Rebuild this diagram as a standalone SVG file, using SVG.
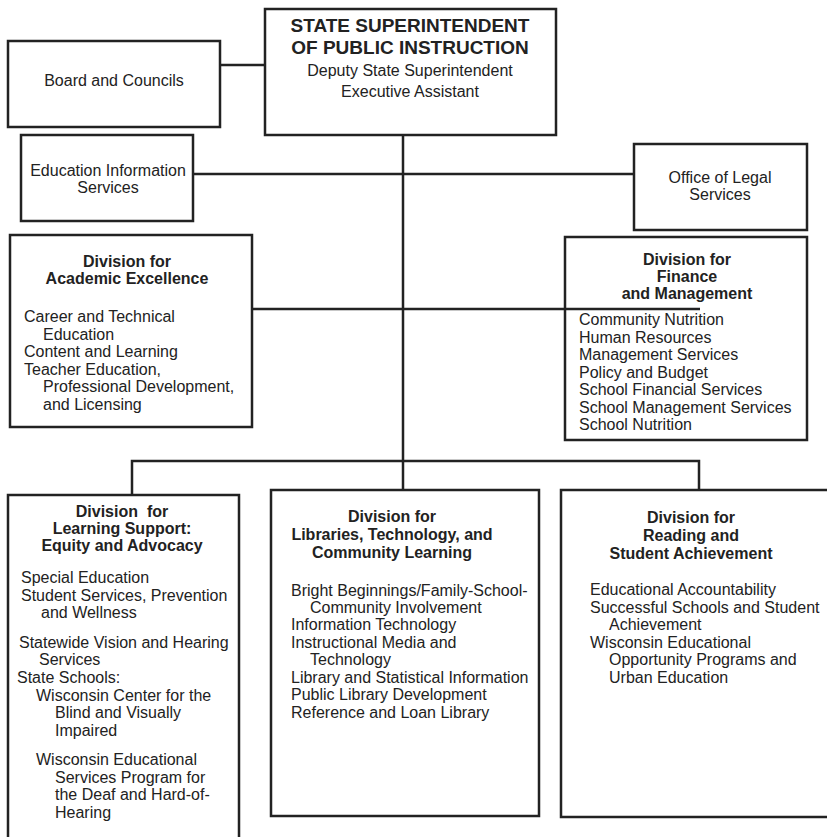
<svg xmlns="http://www.w3.org/2000/svg" width="827" height="837" viewBox="0 0 827 837">
<style>
.box{fill:#fff;stroke:#222;stroke-width:2.5}
.ln{fill:none;stroke:#222;stroke-width:2.5}
text{font-family:"Liberation Sans",Arial,sans-serif;font-size:16px;fill:#222}
.b{font-weight:bold}
.c{text-anchor:middle}
.big{font-size:19px;font-weight:bold}
</style>
<rect width="827" height="837" fill="#fff"/>
<g id="connectors">
<line class="ln" x1="220" y1="65" x2="265" y2="65"/>
<line class="ln" x1="403" y1="135" x2="403" y2="461"/>
<line class="ln" x1="193" y1="174" x2="634" y2="174"/>
<line class="ln" x1="252" y1="309" x2="700" y2="309"/>
<path class="ln" d="M132,495 V461 H699 V490"/>
<line class="ln" x1="403" y1="461" x2="403" y2="490"/>
</g>
<g id="superintendent">
<rect class="box" x="265" y="9" width="291" height="126"/>
<text class="big c" x="410" y="32">STATE SUPERINTENDENT</text>
<text class="big c" x="410" y="54">OF PUBLIC INSTRUCTION</text>
<text class="c" x="410" y="76">Deputy State Superintendent</text>
<text class="c" x="410" y="97">Executive Assistant</text>
</g>
<g id="board">
<rect class="box" x="8" y="41" width="212" height="86"/>
<text class="c" x="114" y="86">Board and Councils</text>
</g>
<g id="edinfo">
<rect class="box" x="21" y="135" width="172" height="86"/>
<text class="c" x="108" y="176">Education Information</text>
<text class="c" x="108" y="193">Services</text>
</g>
<g id="legal">
<rect class="box" x="634" y="144" width="173" height="86"/>
<text class="c" x="720" y="183">Office of Legal</text>
<text class="c" x="720" y="200">Services</text>
</g>
<g id="academic">
<rect class="box" x="10" y="235" width="242" height="192"/>
<text class="b c" x="127" y="267">Division for</text>
<text class="b c" x="127" y="284">Academic Excellence</text>
<text x="24" y="322">Career and Technical</text>
<text x="43" y="339.5">Education</text>
<text x="24" y="357">Content and Learning</text>
<text x="24" y="374.5">Teacher Education,</text>
<text x="43" y="392">Professional Development,</text>
<text x="43" y="409.5">and Licensing</text>
</g>
<g id="finance">
<path class="box" d="M565,237 H807 V440 H565 Z"/>
<line class="ln" x1="565" y1="309" x2="700" y2="309"/>
<text class="b c" x="687" y="265">Division for</text>
<text class="b c" x="687" y="282">Finance</text>
<text class="b c" x="687" y="299">and Management</text>
<text x="579" y="325">Community Nutrition</text>
<text x="579" y="342.5">Human Resources</text>
<text x="579" y="360">Management Services</text>
<text x="579" y="377.5">Policy and Budget</text>
<text x="579" y="395">School Financial Services</text>
<text x="579" y="412.5">School Management Services</text>
<text x="579" y="430">School Nutrition</text>
</g>
<g id="learning">
<path class="box" d="M8,838 V495 H239 V838"/>
<text class="b c" x="122" y="517" xml:space="preserve">Division  for</text>
<text class="b c" x="122" y="534">Learning Support:</text>
<text class="b c" x="122" y="551">Equity and Advocacy</text>
<text x="21" y="583">Special Education</text>
<text x="21" y="601">Student Services, Prevention</text>
<text x="41" y="618">and Wellness</text>
<text x="19" y="648">Statewide Vision and Hearing</text>
<text x="39" y="665">Services</text>
<text x="17" y="683">State Schools:</text>
<text x="36" y="701">Wisconsin Center for the</text>
<text x="55" y="718">Blind and Visually</text>
<text x="55" y="736">Impaired</text>
<text x="36" y="765">Wisconsin Educational</text>
<text x="55" y="783">Services Program for</text>
<text x="55" y="800">the Deaf and Hard-of-</text>
<text x="55" y="818">Hearing</text>
</g>
<g id="libraries">
<rect class="box" x="271" y="490" width="268" height="326"/>
<text class="b c" x="392" y="522">Division for</text>
<text class="b c" x="392" y="540">Libraries, Technology, and</text>
<text class="b c" x="392" y="558">Community Learning</text>
<text x="291" y="596">Bright Beginnings/Family-School-</text>
<text x="310" y="612.5">Community Involvement</text>
<text x="291" y="630">Information Technology</text>
<text x="291" y="647.5">Instructional Media and</text>
<text x="310" y="665">Technology</text>
<text x="291" y="682.5">Library and Statistical Information</text>
<text x="291" y="700">Public Library Development</text>
<text x="291" y="717.5">Reference and Loan Library</text>
</g>
<g id="reading">
<path class="box" d="M830,490 H561 V817 H830"/>
<text class="b c" x="691" y="523">Division for</text>
<text class="b c" x="691" y="541">Reading and</text>
<text class="b c" x="691" y="559">Student Achievement</text>
<text x="590" y="595">Educational Accountability</text>
<text x="590" y="612.5">Successful Schools and Student</text>
<text x="609" y="630">Achievement</text>
<text x="590" y="647.5">Wisconsin Educational</text>
<text x="609" y="665">Opportunity Programs and</text>
<text x="609" y="682.5">Urban Education</text>
</g>
</svg>
